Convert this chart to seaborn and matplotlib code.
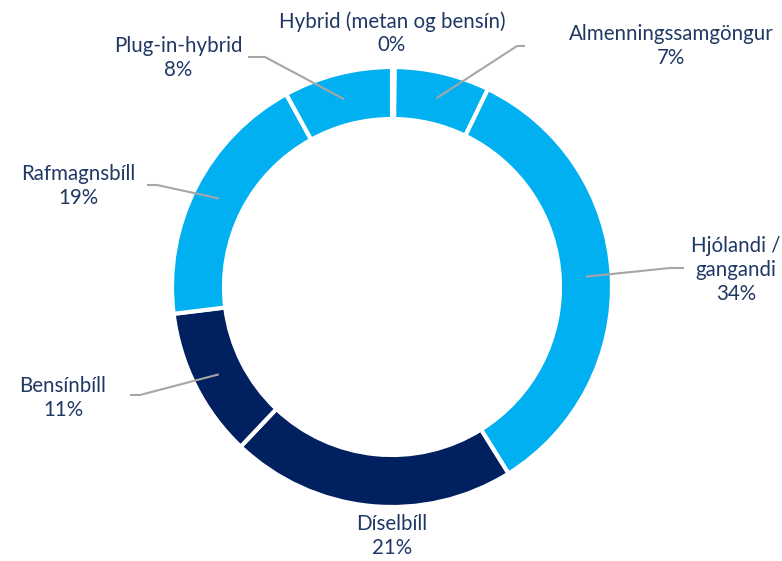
import numpy as np
import matplotlib
matplotlib.use("Agg")
import matplotlib.pyplot as plt
import seaborn as sns

# ---- data ----
categories = ["Hybrid (metan og bensín)", "Almenningssamgöngur", "Hjólandi /\ngangandi",
              "Díselbíll", "Bensínbíll", "Rafmagnsbíll", "Plug-in-hybrid"]
values = [0.2, 7, 34, 21, 11, 19, 8]
pct_labels = ["0%", "7%", "34%", "21%", "11%", "19%", "8%"]

LIGHT = "#00B0F0"
DARK = "#002060"
colors = [LIGHT, LIGHT, LIGHT, DARK, DARK, LIGHT, LIGHT]

sns.set_theme(style="white")
plt.rcParams['font.family'] = ['Lato', 'DejaVu Sans']

W, H = 782, 561
fig = plt.figure(figsize=(W / 100, H / 100), dpi=100)
ax = fig.add_axes([0, 0, 1, 1])

def P(x, y):
    return (x, H - y)

cx, cy = P(392, 287)
R = 220
ring = 52

wedges, _ = ax.pie(values, colors=colors, startangle=90, counterclock=False,
                   center=(cx, cy), radius=R,
                   wedgeprops=dict(width=ring, edgecolor="white", linewidth=3))
ax.set_xlim(0, W)
ax.set_ylim(0, H)
ax.set_aspect("equal")
ax.axis("off")

text_color = "#1F3864"
# label centre positions (pixels), and leader line elbow / end (pixels) or None
label_pos = [(392, 33), (671, 46), (736, 270), (392, 536), (63, 398), (78, 186), (178, 58)]
leaders = [None,
           [(517, 46), (525, 46)],
           [(670, 268), (684, 268)],
           None,
           [(140, 395), (130, 395)],
           [(157, 185), (147, 185)],
           [(265, 57), (248, 57)]]

total = sum(values)
cum = 0
for i, v in enumerate(values):
    mid = (cum + v / 2) / total
    cum += v
    ang = np.deg2rad(90 - 360 * mid)
    rm = R - ring / 2
    sx, sy = cx + rm * np.cos(ang), cy + rm * np.sin(ang)
    if leaders[i] is not None:
        pts = [(sx, sy)] + [P(*p) for p in leaders[i]]
        xs, ys = zip(*pts)
        ax.plot(xs, ys, color="#A6A6A6", lw=1.5, solid_capstyle="butt", zorder=3)
    lx, ly = P(*label_pos[i])
    ax.text(lx, ly, categories[i] + "\n" + pct_labels[i], ha="center", va="center",
            color=text_color, fontsize=14.8, linespacing=1.22)

fig.savefig("out.png", dpi=100)
